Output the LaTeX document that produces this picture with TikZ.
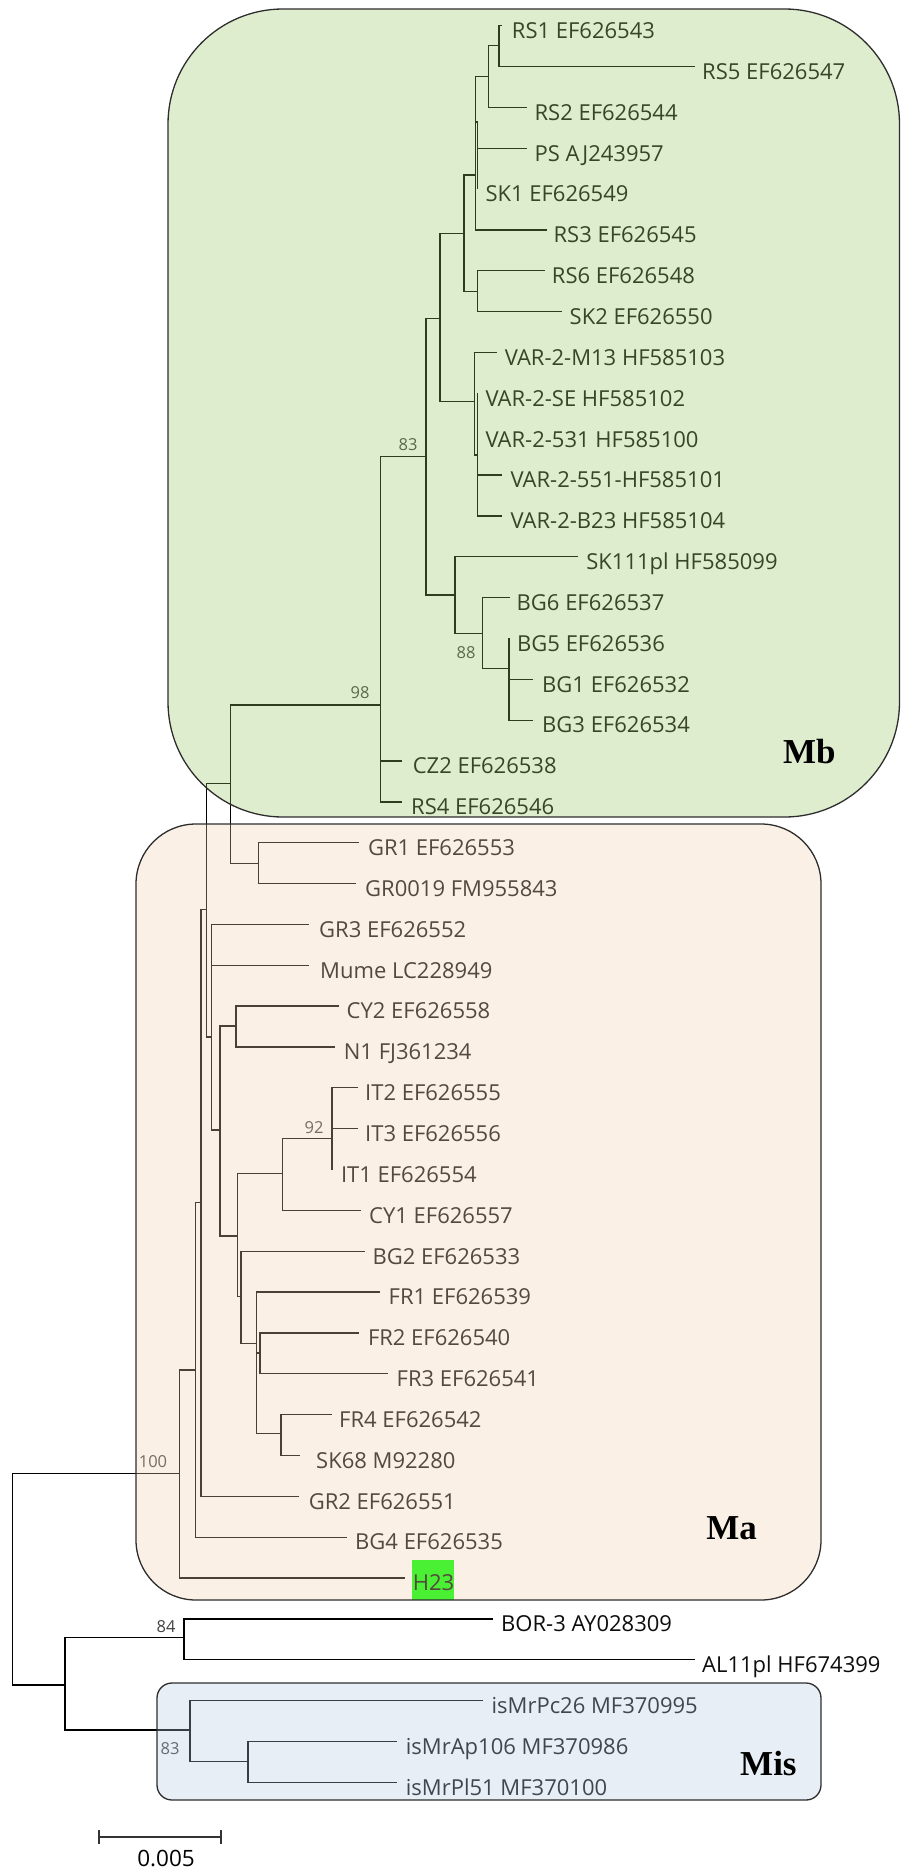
\documentclass[tikz,border=0pt]{standalone}
\usepackage{fontspec}
\newfontfamily\lblfam{Open Sans}
\newfontfamily\cladefam{Liberation Serif}
\definecolor{mbfill}{RGB}{149,197,97}
\definecolor{mafill}{RGB}{242,207,171}
\definecolor{misfill}{RGB}{181,200,226}
\definecolor{hlgreen}{RGB}{0,255,0}
\definecolor{boxline}{RGB}{45,45,45}
\newcommand\leaf[5]{%
  \coordinate (e#1) at (#2,#4);
  \node[lbl] (n#1) at (#3,{#4+12.8}) {#5};}
\begin{document}
\begin{tikzpicture}[x=1pt,y=-1pt,
  br/.style={line width=1.3pt,black},
  lbl/.style={anchor=base west,inner sep=0pt,text=black!95,font=\lblfam\fontsize{22}{26}\selectfont},
  bsv/.style={anchor=center,inner sep=0pt,text=black!75,font=\lblfam\fontsize{16.5}{20}\selectfont},
  cladelbl/.style={anchor=base,inner sep=0pt,text=black,font=\cladefam\bfseries\fontsize{35}{40}\selectfont},
  cladebox/.style={draw=boxline,line width=1.3pt,fill opacity=0.31}]
\useasboundingbox (0,0) rectangle (901,1870);

% highlight
\fill[hlgreen] (411.5,1560) rectangle (454,1600);

% leaves
\leaf{RS1}{502.3}{511.7}{25.7}{RS1 EF626543}
\leaf{RS5}{695}{702}{66.55}{RS5 EF626547}
\leaf{RS2}{526.7}{534.4}{107.4}{RS2 EF626544}
\leaf{PS}{526.7}{534.4}{148.25}{PS AJ243957}
\leaf{SKone}{477.7}{485.3}{189.1}{SK1 EF626549}
\leaf{RS3}{546.7}{553.4}{229.95}{RS3 EF626545}
\leaf{RS6}{545}{551.7}{270.8}{RS6 EF626548}
\leaf{SK2}{562}{569.5}{311.65}{SK2 EF626550}
\leaf{Vm}{496.7}{504.6}{352.5}{VAR-2-M13 HF585103}
\leaf{Vse}{477.7}{485.3}{393.35}{VAR-2-SE HF585102}
\leaf{Vf}{477.7}{485.3}{434.2}{VAR-2-531 HF585100}
\leaf{Vs}{502.3}{510.3}{475.05}{VAR-2-551-HF585101}
\leaf{Vb}{502.3}{510.3}{515.9}{VAR-2-B23 HF585104}
\leaf{SKpl}{577.5}{586.2}{556.75}{SK111pl HF585099}
\leaf{BG6}{509.7}{516.5}{597.6}{BG6 EF626537}
\leaf{BG5}{509}{517}{638.45}{BG5 EF626536}
\leaf{BG1}{533}{542}{679.3}{BG1 EF626532}
\leaf{BG3}{533}{542}{720.15}{BG3 EF626534}
\leaf{CZ2}{402}{412.6}{761.0}{CZ2 EF626538}
\leaf{RS4}{402}{411}{801.85}{RS4 EF626546}
\leaf{GR1}{359}{367.8}{842.7}{GR1 EF626553}
\leaf{GRz}{356}{365}{883.55}{GR0019 FM955843}
\leaf{GR3}{308.6}{319}{924.4}{GR3 EF626552}
\leaf{Mume}{308.6}{320}{965.25}{Mume LC228949}
\leaf{CY2}{339}{346.5}{1006.1}{CY2 EF626558}
\leaf{None}{335}{343.7}{1046.95}{N1 FJ361234}
\leaf{IT2}{357.5}{365}{1087.8}{IT2 EF626555}
\leaf{IT3}{357.5}{365}{1128.65}{IT3 EF626556}
\leaf{IT1}{332}{340.8}{1169.5}{IT1 EF626554}
\leaf{CY1}{361}{369}{1210.35}{CY1 EF626557}
\leaf{BG2}{365}{372.4}{1251.2}{BG2 EF626533}
\leaf{FR1}{380.4}{388.5}{1292.05}{FR1 EF626539}
\leaf{FR2}{359}{367.8}{1332.9}{FR2 EF626540}
\leaf{FR3}{388}{396.5}{1373.75}{FR3 EF626541}
\leaf{FR4}{332}{339}{1414.6}{FR4 EF626542}
\leaf{SK68}{300}{316}{1455.45}{SK68 M92280}
\leaf{GR2}{299}{308.6}{1496.3}{GR2 EF626551}
\leaf{BG4}{346.5}{355}{1537.15}{BG4 EF626535}
\leaf{H23}{405}{412.6}{1578}{H23}
\leaf{BOR}{493}{501}{1618.85}{BOR-3 AY028309}
\leaf{AL}{695}{702}{1659.7}{AL11pl HF674399}
\leaf{Pc}{482.7}{491.4}{1700.55}{isMrPc26 MF370995}
\leaf{Ap}{396.5}{405.7}{1741.4}{isMrAp106 MF370986}
\leaf{Pl}{396.5}{405.7}{1782.25}{isMrPl51 MF370100}

% internal nodes
\coordinate (R) at (12.6,1579);
\coordinate (S) at (179.3,1473.3);
\coordinate (N) at (65,1685);
\coordinate (M) at (184,1637.7);
\coordinate (O) at (190,1730);
\coordinate (P) at (248,1761.7);
\coordinate (T) at (195.7,1370);
\coordinate (U) at (201,1202.7);
\coordinate (L) at (206.7,909.3);
\coordinate (J) at (230.5,783.3);
\coordinate (K) at (258.5,863.3);
\coordinate (F) at (380.4,705);
\coordinate (E) at (426,456.7);
\coordinate (D) at (440,318.3);
\coordinate (B) at (464,233.3);
\coordinate (A) at (475.5,175);
\coordinate (C1) at (488.7,76.7);
\coordinate (C0) at (499,45.7);
\coordinate (Q) at (477.7,122);
\coordinate (C) at (477.7,291.7);
\coordinate (V1) at (474.3,401.7);
\coordinate (V2) at (477.7,455);
\coordinate (G) at (455,595);
\coordinate (H) at (482.7,633.3);
\coordinate (I) at (509,668.3);
\coordinate (V) at (211.7,1037);
\coordinate (W) at (220,1130);
\coordinate (X) at (236,1026);
\coordinate (Y) at (237.7,1236);
\coordinate (Z) at (282.7,1173.3);
\coordinate (AB) at (332,1138.3);
\coordinate (AA) at (241,1296.7);
\coordinate (AC) at (256.7,1343.3);
\coordinate (AE) at (260,1353);
\coordinate (AD) at (281,1433.3);

% branches
\draw[br] (R) |- (S); \draw[br] (R) |- (N);
\draw[br] (N) |- (M); \draw[br] (N) |- (O);
\draw[br] (M) |- (eBOR); \draw[br] (M) |- (eAL);
\draw[br] (O) |- (ePc); \draw[br] (O) |- (P);
\draw[br] (P) |- (eAp); \draw[br] (P) |- (ePl);
\draw[br] (S) |- (T); \draw[br] (S) |- (eH23);
\draw[br] (T) |- (U); \draw[br] (T) |- (eBG4);
\draw[br] (U) |- (L); \draw[br] (U) |- (eGR2);
\draw[br] (L) |- (J); \draw[br] (L) |- (V);
\draw[br] (J) |- (F); \draw[br] (J) |- (K);
\draw[br] (K) |- (eGR1); \draw[br] (K) |- (eGRz);
\draw[br] (F) |- (E); \draw[br] (F) |- (eCZ2); \draw[br] (F) |- (eRS4);
\draw[br] (E) |- (D); \draw[br] (E) |- (G);
\draw[br] (D) |- (B); \draw[br] (D) |- (V1);
\draw[br] (B) |- (A); \draw[br] (B) |- (C);
\draw[br] (A) |- (C1); \draw[br] (A) |- (Q); \draw[br] (A) |- (eRS3);
\draw[br] (C1) |- (C0); \draw[br] (C1) |- (eRS2);
\draw[br] (C0) |- (eRS1); \draw[br] (C0) |- (eRS5);
\draw[br] (Q) |- (ePS); \draw[br] (Q) |- (eSKone);
\draw[br] (C) |- (eRS6); \draw[br] (C) |- (eSK2);
\draw[br] (V1) |- (eVm); \draw[br] (V1) |- (V2);
\draw[br] (V2) |- (eVse); \draw[br] (V2) |- (eVf); \draw[br] (V2) |- (eVs); \draw[br] (V2) |- (eVb);
\draw[br] (G) |- (eSKpl); \draw[br] (G) |- (H);
\draw[br] (H) |- (eBG6); \draw[br] (H) |- (I);
\draw[br] (I) |- (eBG5); \draw[br] (I) |- (eBG1); \draw[br] (I) |- (eBG3);
\draw[br] (V) |- (eGR3); \draw[br] (V) |- (eMume); \draw[br] (V) |- (W);
\draw[br] (W) |- (X); \draw[br] (W) |- (Y);
\draw[br] (X) |- (eCY2); \draw[br] (X) |- (eNone);
\draw[br] (Y) |- (Z); \draw[br] (Y) |- (AA);
\draw[br] (Z) |- (AB); \draw[br] (Z) |- (eCY1);
\draw[br] (AB) |- (eIT2); \draw[br] (AB) |- (eIT3); \draw[br] (AB) |- (eIT1);
\draw[br] (AA) |- (eBG2); \draw[br] (AA) |- (AC);
\draw[br] (AC) |- (eFR1); \draw[br] (AC) |- (AE); \draw[br] (AC) |- (AD);
\draw[br] (AE) |- (eFR2); \draw[br] (AE) |- (eFR3);
\draw[br] (AD) |- (eFR4); \draw[br] (AD) |- (eSK68);

% bootstrap values
\node[bsv] (b83a) at (408,445) {83};
\node[bsv] (b88) at (466,653) {88};
\node[bsv] (b98) at (360,693) {98};
\node[bsv] (b92) at (314,1127.7) {92};
\node[bsv] (b100) at (153,1461.7) {100};
\node[bsv] (b84) at (166,1626.7) {84};
\node[bsv] (b83b) at (170,1749) {83};

% clade boxes (translucent overlay)
\draw[cladebox,fill=mbfill,rounded corners=115pt] (168,9) rectangle (899.5,817);
\draw[cladebox,fill=mafill,rounded corners=60pt] (136,824) rectangle (821,1600);
\draw[cladebox,fill=misfill,rounded corners=15pt] (157,1683) rectangle (821,1800);

\node[cladelbl] (Mb) at (809.4,763) {Mb};
\node[cladelbl] (Ma) at (731.6,1539) {Ma};
\node[cladelbl] (Mis) at (768.4,1775) {Mis};

% scale bar
\coordinate (sbL) at (99,1837);
\coordinate (sbR) at (221,1837);
\draw[line width=1.5pt,black!80] (sbL) -- (sbR);
\draw[line width=1.5pt,black!80] ([yshift=7pt]sbL) -- ([yshift=-7pt]sbL);
\draw[line width=1.5pt,black!80] ([yshift=7pt]sbR) -- ([yshift=-7pt]sbR);
\node[anchor=base,inner sep=0pt,text=black,font=\lblfam\fontsize{22.5}{26}\selectfont] (sblab) at (166,1866.7) {0.005};
\end{tikzpicture}
\end{document}
